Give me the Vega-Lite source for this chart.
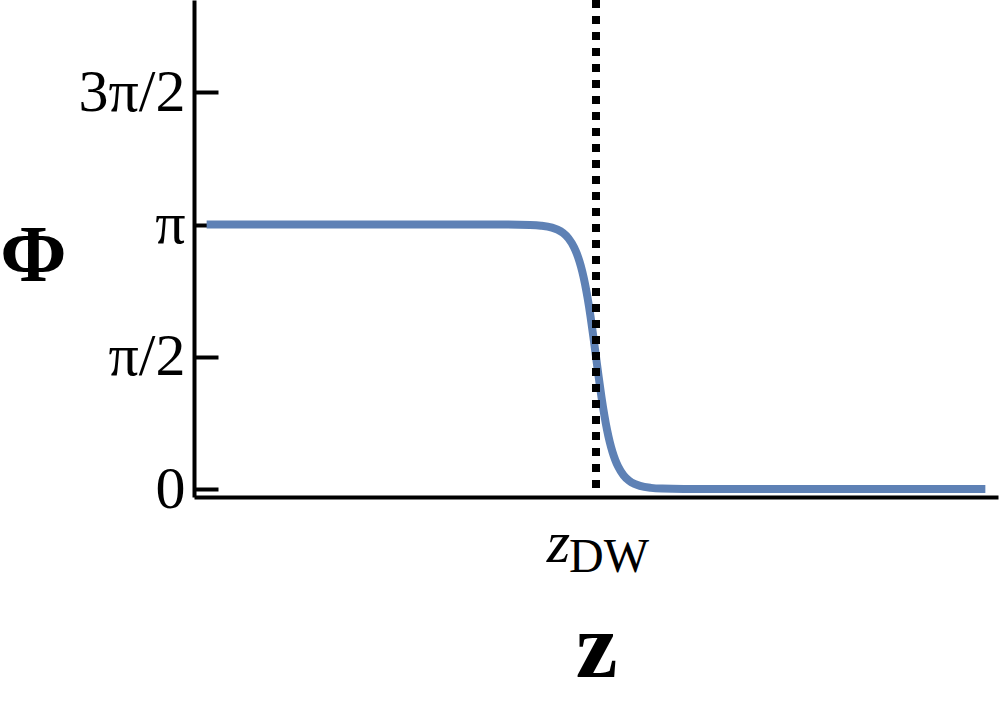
{
  "$schema": "https://vega.github.io/schema/vega-lite/v6.json",
  "autosize": {"type": "none"},
  "padding": {"left": 194, "top": 0, "right": 2, "bottom": 205},
  "width": 804,
  "height": 497,
  "background": "white",
  "config": {"view": {"stroke": null}},
  "layer": [
    {
      "data": {"values": [
        {"z": -35.4, "phi": 3.1416},
        {"z": -10, "phi": 3.1415},
        {"z": -8, "phi": 3.1409},
        {"z": -6, "phi": 3.1366},
        {"z": -5, "phi": 3.1281},
        {"z": -4, "phi": 3.1050},
        {"z": -3.5, "phi": 3.0812},
        {"z": -3, "phi": 3.0421},
        {"z": -2.5, "phi": 2.9778},
        {"z": -2, "phi": 2.8726},
        {"z": -1.75, "phi": 2.7975},
        {"z": -1.5, "phi": 2.7025},
        {"z": -1.25, "phi": 2.5835},
        {"z": -1, "phi": 2.4366},
        {"z": -0.75, "phi": 2.2586},
        {"z": -0.5, "phi": 2.0512},
        {"z": -0.25, "phi": 1.8182},
        {"z": 0, "phi": 1.5708},
        {"z": 0.25, "phi": 1.3234},
        {"z": 0.5, "phi": 1.0904},
        {"z": 0.75, "phi": 0.8830},
        {"z": 1, "phi": 0.7050},
        {"z": 1.25, "phi": 0.5581},
        {"z": 1.5, "phi": 0.4391},
        {"z": 1.75, "phi": 0.3441},
        {"z": 2, "phi": 0.2690},
        {"z": 2.5, "phi": 0.1638},
        {"z": 3, "phi": 0.0995},
        {"z": 3.5, "phi": 0.0604},
        {"z": 4, "phi": 0.0366},
        {"z": 5, "phi": 0.0135},
        {"z": 6, "phi": 0.0050},
        {"z": 8, "phi": 0.0007},
        {"z": 10, "phi": 0.0001},
        {"z": 35.4, "phi": 0}
      ]},
      "mark": {"type": "line", "color": "#5E81B5", "strokeWidth": 8, "interpolate": "monotone", "strokeCap": "butt"},
      "encoding": {
        "x": {
          "field": "z", "type": "quantitative",
          "scale": {"domain": [-36.55, 36.55], "nice": false, "zero": false},
          "axis": {
            "title": "z",
            "titleFont": "Liberation Serif",
            "titleFontSize": 94,
            "titleFontWeight": "bold",
            "titleColor": "black",
            "titleBaseline": "alphabetic",
            "titlePadding": 179,
            "labels": false,
            "ticks": false,
            "grid": false,
            "domainColor": "black",
            "domainWidth": 4,
            "values": [0]
          }
        },
        "y": {
          "field": "phi", "type": "quantitative",
          "scale": {"domain": [-0.095, 5.809], "nice": false, "zero": false},
          "axis": {
            "title": "Φ",
            "titleFont": "Liberation Serif",
            "titleFontSize": 80,
            "titleFontWeight": "bold",
            "titleColor": "black",
            "titleAngle": 0,
            "titleAlign": "center",
            "titleBaseline": "alphabetic",
            "titleX": -161,
            "titleY": 280,
            "values": [0, 1.5708, 3.1416, 4.7124],
            "labelExpr": "datum.value < 0.1 ? '0' : datum.value < 2 ? 'π/2' : datum.value < 4 ? 'π' : '3π/2'",
            "labelFont": "Liberation Serif",
            "labelFontSize": 60,
            "labelColor": "black",
            "labelPadding": 33,
            "labelBaseline": "middle",
            "tickSize": -24,
            "tickWidth": 4,
            "tickColor": "black",
            "grid": false,
            "domainColor": "black",
            "domainWidth": 4
          }
        }
      }
    },
    {
      "data": {"values": [{"z": 0, "sym": "z", "sub": "DW"}]},
      "layer": [
        {
          "mark": {"type": "rule", "color": "black", "strokeWidth": 8, "strokeDash": [8, 8], "strokeCap": "butt"},
          "encoding": {"x": {"field": "z", "type": "quantitative"}}
        },
        {
          "mark": {"type": "text", "font": "Liberation Serif", "fontSize": 60, "fontStyle": "italic", "align": "right", "baseline": "alphabetic", "dx": -26, "color": "black"},
          "encoding": {
            "x": {"field": "z", "type": "quantitative"},
            "y": {"datum": -0.867},
            "text": {"field": "sym"}
          }
        },
        {
          "mark": {"type": "text", "font": "Liberation Serif", "fontSize": 48, "align": "left", "baseline": "alphabetic", "dx": -27, "color": "black"},
          "encoding": {
            "x": {"field": "z", "type": "quantitative"},
            "y": {"datum": -0.986},
            "text": {"field": "sub"}
          }
        }
      ]
    }
  ]
}
